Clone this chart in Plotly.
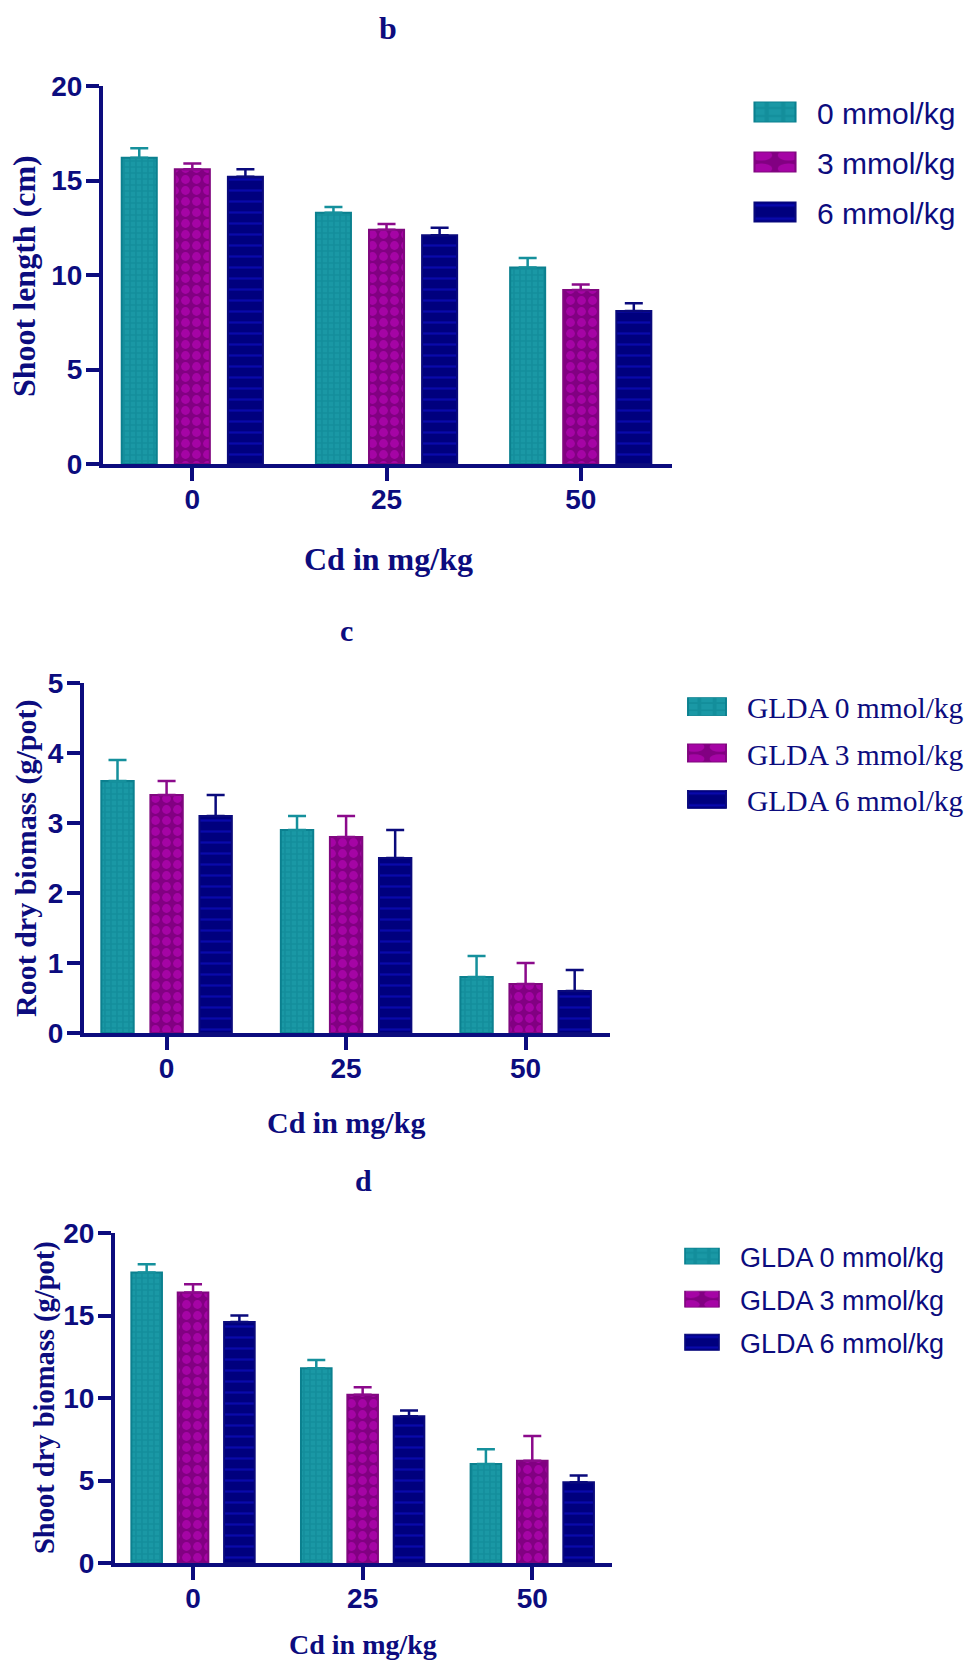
import plotly.graph_objects as go

# ---------------- data ----------------
cd_levels = ["0", "25", "50"]

# panel b : shoot length (cm)
b_names = ["0 mmol/kg", "3 mmol/kg", "6 mmol/kg"]
b_g0 = [16.2, 13.3, 10.4]
b_g3 = [15.6, 12.4, 9.2]
b_g6 = [15.2, 12.1, 8.1]
b_e0 = [0.5, 0.3, 0.5]
b_e3 = [0.3, 0.3, 0.3]
b_e6 = [0.4, 0.4, 0.4]

# panel c : root dry biomass (g/pot)
c_names = ["GLDA 0 mmol/kg", "GLDA 3 mmol/kg", "GLDA 6 mmol/kg"]
c_g0 = [3.6, 2.9, 0.8]
c_g3 = [3.4, 2.8, 0.7]
c_g6 = [3.1, 2.5, 0.6]
c_e0 = [0.3, 0.2, 0.3]
c_e3 = [0.2, 0.3, 0.3]
c_e6 = [0.3, 0.4, 0.3]

# panel d : shoot dry biomass (g/pot)
d_names = ["GLDA 0 mmol/kg", "GLDA 3 mmol/kg", "GLDA 6 mmol/kg"]
d_g0 = [17.6, 11.8, 6.0]
d_g3 = [16.4, 10.2, 6.2]
d_g6 = [14.6, 8.9, 4.9]
d_e0 = [0.5, 0.5, 0.9]
d_e3 = [0.5, 0.45, 1.5]
d_e6 = [0.4, 0.35, 0.4]

# ---------------- styles ----------------
NAVY = "#0c0c7e"
styles = [
    dict(line="#0b808f", err="#15909c",
         pattern=dict(shape="+", size=6, solidity=0.45, fgcolor="#0c8392", bgcolor="#1a98a5")),
    dict(line="#80087f", err="#8b0a8b",
         pattern=dict(shape=".", size=11, solidity=0.5, fgcolor="#c808c8", bgcolor="#820082")),
    dict(line="#0a0a7c", err="#0a0a7c",
         pattern=dict(shape="-", size=11, solidity=0.2, fgcolor="#1212d8", bgcolor="#00007e")),
]

fig = go.Figure()

panels = [
    dict(names=b_names, vals=[b_g0, b_g3, b_g6], errs=[b_e0, b_e3, b_e6], ax="", leg="legend"),
    dict(names=c_names, vals=[c_g0, c_g3, c_g6], errs=[c_e0, c_e3, c_e6], ax="2", leg="legend2"),
    dict(names=d_names, vals=[d_g0, d_g3, d_g6], errs=[d_e0, d_e3, d_e6], ax="3", leg="legend3"),
]

for p in panels:
    for i in range(3):
        st = styles[i]
        fig.add_trace(go.Bar(
            x=cd_levels, y=p["vals"][i], name=p["names"][i],
            xaxis="x" + p["ax"], yaxis="y" + p["ax"],
            legend=p["leg"], legendgroup=p["leg"] + str(i),
            marker=dict(color=st["pattern"]["bgcolor"],
                        line=dict(color=st["line"], width=2),
                        pattern=st["pattern"]),
            error_y=dict(type="data", array=p["errs"][i], symmetric=False,
                         arrayminus=[0, 0, 0], color=st["err"], thickness=2.5, width=9),
        ))

H = 1660.0
W = 965.0

def xdom(a, b):
    return [a / W, b / W]

def ydom(top, bottom):
    return [1 - bottom / H, 1 - top / H]

tickfont = dict(family="Liberation Sans Narrow, Arial Narrow, Arial, Liberation Sans",
                size=28, color=NAVY, weight="bold")

def xaxis(dom, anchor):
    return dict(domain=dom, anchor=anchor, type="category", range=[-0.46, 2.47],
                showline=True, linecolor=NAVY, linewidth=4, ticks="outside",
                ticklen=13, tickwidth=4, tickcolor=NAVY, tickfont=tickfont,
                ticklabelstandoff=-6,
                showgrid=False, zeroline=False, fixedrange=True, automargin=False)

def yaxis(dom, anchor, rng, dt):
    return dict(domain=dom, anchor=anchor, range=rng, dtick=dt, tick0=0,
                showline=True, linecolor=NAVY, linewidth=4, ticks="outside",
                ticklen=13, tickwidth=4, tickcolor=NAVY, tickfont=tickfont,
                ticklabelstandoff=-2,
                showgrid=False, zeroline=False, fixedrange=True, automargin=False)

fig.update_layout(
    width=965, height=1660,
    margin=dict(l=0, r=0, t=0, b=0, autoexpand=False),
    paper_bgcolor="white", plot_bgcolor="white",
    barmode="group", bargap=0.18, bargroupgap=0.34,
    xaxis=xaxis(xdom(103, 672), "y"),
    yaxis=yaxis(ydom(86, 464), "x", [0, 20], 5),
    xaxis2=xaxis(xdom(84, 610), "y2"),
    yaxis2=yaxis(ydom(683, 1033), "x2", [0, 5], 1),
    xaxis3=xaxis(xdom(115, 612), "y3"),
    yaxis3=yaxis(ydom(1233, 1563), "x3", [0, 20], 5),
    legend=dict(x=733 / W, y=1 - 86 / H, xanchor="left", yanchor="top", itemwidth=74,
                font=dict(family="Arial, Liberation Sans", size=30, color=NAVY),
                traceorder="grouped", tracegroupgap=8, bgcolor="rgba(0,0,0,0)"),
    legend2=dict(x=667 / W, y=1 - 681 / H, xanchor="left", yanchor="top", itemwidth=70,
                 font=dict(family="Times New Roman, Liberation Serif", size=29.5, color=NAVY),
                 traceorder="grouped", tracegroupgap=5, bgcolor="rgba(0,0,0,0)"),
    legend3=dict(x=664 / W, y=1 - 1232 / H, xanchor="left", yanchor="top", itemwidth=66,
                 font=dict(family="Arial, Liberation Sans", size=27, color=NAVY),
                 traceorder="grouped", tracegroupgap=5, bgcolor="rgba(0,0,0,0)"),
)

serif = "Times New Roman, Liberation Serif"

def ann(text, x, y, size, angle=0):
    fig.add_annotation(text=text, x=x / W, y=1 - y / H, xref="paper", yref="paper",
                       xanchor="center", yanchor="middle", showarrow=False,
                       textangle=angle,
                       font=dict(family=serif, size=size, color=NAVY, weight="bold"))

# panel letters
ann("b", 388, 28, 32)
ann("c", 346, 630, 30)
ann("d", 363, 1180, 30)
# x titles
ann("Cd in mg/kg", 388, 559, 32)
ann("Cd in mg/kg", 346, 1122, 30)
ann("Cd in mg/kg", 363, 1644, 28)
# y titles
ann("Shoot length (cm)", 24, 276, 32, -90)
ann("Root dry biomass (g/pot)", 26, 858, 30, -90)
ann("Shoot dry biomass (g/pot)", 45, 1398, 28.5, -90)

# page without body margin + larger legend swatches (41x20, 38x18, 34x16)
post = (
    "document.body.style.margin='0';"
    "document.documentElement.style.overflow='hidden';"
    "var sc=[[3.42,1.67],[3.17,1.5],[2.83,1.33]];"
    "var items=document.querySelectorAll('g.traces');"
    "items.forEach(function(g,k){var s=sc[Math.min(2,Math.floor(k/3))];"
    "g.querySelectorAll('.legendpoints path').forEach(function(p){"
    "var t=p.getAttribute('transform')||'';"
    "p.setAttribute('transform',t+' scale('+s[0]+','+s[1]+')');"
    "p.style.strokeWidth='0.6px';});});"
)

fig.write_html("out.html", post_script=post)
